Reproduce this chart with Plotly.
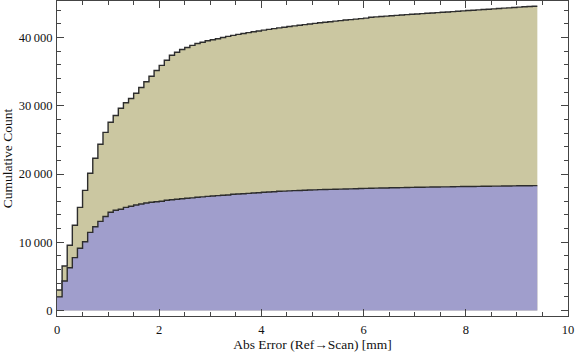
import plotly.graph_objects as go

bin_width = 0.1

# Cumulative counts per 0.1 mm bin (bins 0.0-0.1 ... 9.3-9.4)
total_counts = [
    3016, 6530, 9560, 12490, 15120, 17610, 20100, 22300, 24360, 26100,
    27580, 28570, 29620, 30440, 31050, 31820, 32670, 33510, 34320, 35150,
    35910, 36660, 37380, 37830, 38230, 38520, 38840, 39110, 39280, 39520,
    39660, 39810, 39990, 40150, 40300, 40440, 40570, 40700, 40820, 40940,
    41060, 41170, 41280, 41390, 41490, 41590, 41690, 41780, 41870, 41960,
    42050, 42140, 42220, 42300, 42380, 42460, 42540, 42610, 42680, 42750,
    42820, 42940, 43000, 43060, 43120, 43180, 43230, 43280, 43330, 43380,
    43430, 43480, 43530, 43580, 43630, 43680, 43730, 43780, 43830, 43880,
    43930, 43980, 44030, 44080, 44130, 44180, 44230, 44280, 44330, 44380,
    44430, 44480, 44530, 44570,
]

subset_counts = [
    2035, 4330, 6280, 7750, 9120, 10090, 11460, 12280, 13070, 13780,
    14390, 14690, 14830, 15120, 15270, 15460, 15610, 15750, 15860, 15930,
    16000, 16150, 16220, 16300, 16370, 16440, 16510, 16590, 16650, 16730,
    16780, 16830, 16880, 16930, 17030, 17070, 17110, 17170, 17210, 17250,
    17320, 17360, 17400, 17470, 17500, 17530, 17560, 17590, 17620, 17650,
    17680, 17710, 17730, 17750, 17770, 17790, 17810, 17830, 17850, 17870,
    17890, 17910, 17930, 17950, 17960, 17980, 17990, 18010, 18020, 18040,
    18050, 18070, 18080, 18090, 18100, 18110, 18120, 18130, 18150, 18160,
    18170, 18180, 18190, 18200, 18210, 18220, 18230, 18240, 18250, 18260,
    18270, 18280, 18290, 18300,
]

x_tick_vals = [0, 2, 4, 6, 8, 10]
x_tick_text = ["0", "2", "4", "6", "8", "10"]
y_tick_vals = [0, 10000, 20000, 30000, 40000]
y_tick_text = ["0", "10\u2009000", "20\u2009000", "30\u2009000", "40\u2009000"]


def step_xy(values):
    xs = [i * bin_width for i in range(len(values))] + [len(values) * bin_width]
    ys = list(values) + [values[-1]]
    return xs, ys


fig = go.Figure()
for vals, fillc in [(total_counts, "rgb(203,199,161)"), (subset_counts, "rgb(160,158,204)")]:
    xs, ys = step_xy(vals)
    fig.add_trace(go.Scatter(
        x=xs, y=ys, mode="lines", line_shape="hv",
        line=dict(color="rgb(45,45,45)", width=1.4),
        fill="tozeroy", fillcolor=fillc, hoverinfo="skip", showlegend=False,
    ))

tick_font = dict(family="Liberation Serif, Times New Roman, serif", size=12.5, color="#111")
title_font = dict(family="Liberation Serif, Times New Roman, serif", size=13.5, color="#111")
fig.update_layout(
    width=576, height=357,
    margin=dict(l=57, r=8, t=1, b=41),
    paper_bgcolor="white", plot_bgcolor="white",
    font=tick_font,
)
axis_common = dict(
    showgrid=False, zeroline=False, showline=True, linecolor="#444", linewidth=1,
    mirror="allticks", ticks="inside", ticklen=7, tickcolor="#444", tickwidth=1,
    tickfont=tick_font, automargin=False,
)
fig.update_xaxes(
    range=[0, 10], tickvals=x_tick_vals, ticktext=x_tick_text,
    minor=dict(ticks="inside", ticklen=4, dtick=0.5, tickcolor="#444", showgrid=False),
    title=dict(text="Abs Error (Ref\u2192Scan) [mm]", font=title_font, standoff=3),
    ticklabelstandoff=2,
    **axis_common,
)
fig.update_yaxes(
    range=[-790, 45330], tickvals=y_tick_vals, ticktext=y_tick_text,
    minor=dict(ticks="inside", ticklen=4, dtick=2000, tickcolor="#444", showgrid=False),
    title=dict(text="Cumulative Count", font=title_font, standoff=5),
    ticklabelstandoff=1,
    **axis_common,
)
fig.write_html(
    "out.html",
    config={"displayModeBar": False, "staticPlot": True},
    post_script="document.body.style.margin='0';document.body.style.overflow='hidden';",
)
